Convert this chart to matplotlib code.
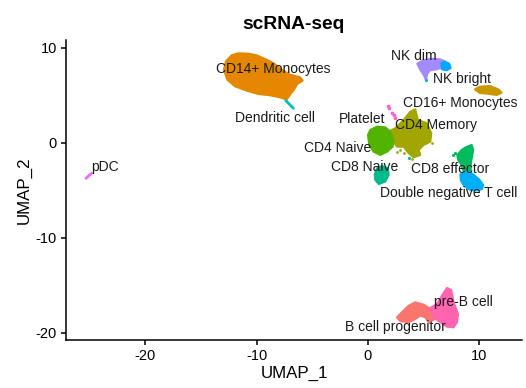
import matplotlib
matplotlib.use('Agg')
import matplotlib.pyplot as plt

plt.rcParams['font.family'] = ['Liberation Sans', 'DejaVu Sans']
plt.rcParams['axes.unicode_minus'] = False

# cluster outlines, in UMAP coordinates
cd14_x = [-12.94, -12.76, -12.25, -11.65, -10.75, -10.0, -9.25, -8.51, -7.75, -7.01, -6.11, -5.87, -6.35, -6.65, -7.01, -7.3, -7.91, -8.8, -9.86, -10.9, -11.95, -12.64]
cd14_y = [7.72, 8.6, 9.23, 9.44, 9.4, 9.23, 8.84, 8.42, 7.72, 7.19, 6.92, 6.56, 6.21, 5.61, 5.08, 4.56, 4.81, 5.02, 5.16, 5.51, 5.97, 6.66]
nk_dim_x = [4.43, 4.97, 5.72, 6.47, 6.92, 6.77, 6.17, 5.57, 5.33, 5.21, 5.03, 4.73]
nk_dim_y = [8.35, 8.71, 8.87, 8.81, 8.6, 8.0, 7.76, 7.65, 7.29, 6.6, 7.13, 7.65]
nk_bright_x = [6.6, 6.92, 7.3, 7.43, 7.07, 6.65]
nk_bright_y = [8.4, 8.55, 8.35, 7.89, 7.65, 7.76]
cd16_x = [9.61, 10.06, 10.96, 11.71, 12.01, 11.56, 10.67, 10.06]
cd16_y = [5.65, 5.93, 6.0, 5.65, 5.29, 5.05, 5.2, 5.25]
naive4_x = [0.0, 0.21, 0.81, 1.55, 2.0, 2.31, 2.22, 1.71, 1.11, 0.51, 0.12]
naive4_y = [0.84, 1.37, 1.72, 1.65, 1.19, 0.32, -0.39, -0.92, -1.26, -0.92, -0.21]
memory_x = [1.86, 2.45, 3.21, 3.8, 4.25, 4.49, 5.3, 5.69, 5.6, 5.0, 4.56, 4.7, 4.11, 3.66, 3.21, 2.61, 2.31, 2.0]
memory_y = [1.19, 1.55, 2.42, 3.29, 3.54, 2.42, 2.07, 1.02, 0.14, -0.21, -0.74, -1.26, -1.51, -1.08, -0.39, -0.39, 0.14, 0.67]
naive8_x = [0.6, 0.81, 1.26, 1.8, 1.86, 1.55, 0.96, 0.66]
naive8_y = [-3.37, -2.66, -2.42, -2.66, -3.37, -4.07, -4.32, -3.89]
eff_x = [8.02, 8.42, 8.8, 9.32, 9.46, 9.32, 9.23, 9.23, 8.63, 8.42, 8.11]
eff_y = [-1.26, -0.74, -0.45, -0.21, -0.74, -1.61, -2.32, -3.19, -3.19, -2.32, -1.79]
dnt_x = [8.3, 8.72, 9.16, 9.6, 10.0, 10.35, 10.25, 9.77, 9.2, 8.65, 8.35]
dnt_y = [-3.3, -3.05, -3.05, -3.45, -3.85, -4.42, -4.85, -5.0, -4.95, -4.55, -3.95]
prog_x = [2.61, 3.05, 3.66, 4.25, 5.0, 5.6, 5.9, 6.05, 5.45, 5.15, 4.7, 4.25, 3.66, 2.9]
prog_y = [-18.35, -17.82, -17.13, -16.77, -17.02, -17.47, -18.0, -18.53, -18.87, -18.35, -18.18, -18.53, -18.87, -18.76]
preb_x = [5.6, 6.2, 6.65, 7.1, 7.48, 7.7, 8.09, 8.0, 7.7, 7.1, 6.5, 5.9]
preb_y = [-17.37, -16.95, -16.07, -15.26, -15.47, -16.77, -18.0, -18.87, -19.4, -19.34, -18.87, -18.35]

# thin clusters and stray points
dendritic_x = [-7.37, -6.7]
dendritic_y = [4.45, 3.65]
pdc_x = [-25.34, -24.83]
pdc_y = [-3.72, -3.19]
platelet_x = [1.8, 1.9, 2.16, 2.36, 2.45]
platelet_y = [3.89, 3.7, 3.19, 2.95, 2.6]
stray_mem_x = [3.21, 3.5, 2.61, 3.95, 5.75, 2.9]
stray_mem_y = [-1.08, -0.74, -0.92, -1.7, 0.0, -0.75]
stray_eff_x = [7.61, 7.82]
stray_eff_y = [-1.26, -1.02]
stray_teal_x = [3.66]
stray_teal_y = [-1.61]
stray_nk_x = [5.21]
stray_nk_y = [6.6]

cluster_outlines = [
    (cd14_x, cd14_y, '#E58700'),
    (cd16_x, cd16_y, '#C99800'),
    (memory_x, memory_y, '#A3A500'),
    (naive4_x, naive4_y, '#53B400'),
    (naive8_x, naive8_y, '#00BC8C'),
    (eff_x, eff_y, '#00BA5E'),
    (dnt_x, dnt_y, '#00B0F6'),
    (nk_dim_x, nk_dim_y, '#A58AFF'),
    (nk_bright_x, nk_bright_y, '#00A9FF'),
    (prog_x, prog_y, '#F8766D'),
    (preb_x, preb_y, '#FF64B0'),
]

label_names = ['CD14+ Monocytes', 'Dendritic cell', 'NK dim', 'NK bright', 'CD16+ Monocytes',
               'Platelet', 'CD4 Memory', 'CD4 Naive', 'CD8 Naive', 'CD8 effector',
               'Double negative T cell', 'pre-B cell', 'B cell progenitor', 'pDC']
label_x = [-8.54, -8.36, 4.13, 8.45, 8.27, -0.54, 6.1, -2.7, -0.27, 7.37, 7.28, 8.54, 2.43, -23.6]
label_y = [7.79, 2.64, 9.16, 6.74, 4.22, 2.53, 1.9, -0.52, -2.52, -2.73, -5.26, -16.73, -19.36, -2.52]

xticks = [-20, -10, 0, 10]
yticks = [-20, -10, 0, 10]

fig = plt.figure(figsize=(5.26, 3.88), dpi=100)
ax = fig.add_axes([66 / 526, 1 - 340 / 388, (522 - 66) / 526, (340 - 40) / 388])

for xs, ys, col in cluster_outlines:
    ax.fill(xs, ys, color=col, lw=1.5, joinstyle='round')

ax.plot(dendritic_x, dendritic_y, color='#00BFC4', lw=2, solid_capstyle='round')
ax.plot(pdc_x, pdc_y, color='#E76BF3', lw=2, solid_capstyle='round')
ax.scatter(platelet_x, platelet_y, s=7, color='#FF61CC', linewidths=0)
ax.scatter(stray_mem_x, stray_mem_y, s=4, color='#A3A500', linewidths=0)
ax.scatter(stray_eff_x, stray_eff_y, s=5, color='#00BA5E', linewidths=0)
ax.scatter(stray_teal_x, stray_teal_y, s=5, color='#00BC8C', linewidths=0)
ax.scatter(stray_nk_x, stray_nk_y, s=5, color='#00A9FF', linewidths=0)

for name, x, y in zip(label_names, label_x, label_y):
    ax.text(x, y, name, fontsize=10, color='#1a1a1a', ha='center', va='center')

ax.set_xlim(-27.13, 13.84)
ax.set_ylim(-20.74, 10.84)
ax.set_xticks(xticks)
ax.set_yticks(yticks)
ax.tick_params(labelsize=10.5, length=3.5, width=1.1, pad=3)
ax.spines['top'].set_visible(False)
ax.spines['right'].set_visible(False)
ax.spines['left'].set_linewidth(1.1)
ax.spines['bottom'].set_linewidth(1.1)
ax.set_xlabel('UMAP_1', fontsize=12.2, labelpad=2)
ax.set_ylabel('UMAP_2', fontsize=12.2, labelpad=3)
ax.set_title('scRNA-seq', fontsize=13.9, fontweight='bold', pad=8, x=0.498)

fig.savefig('out.png', dpi=100)
